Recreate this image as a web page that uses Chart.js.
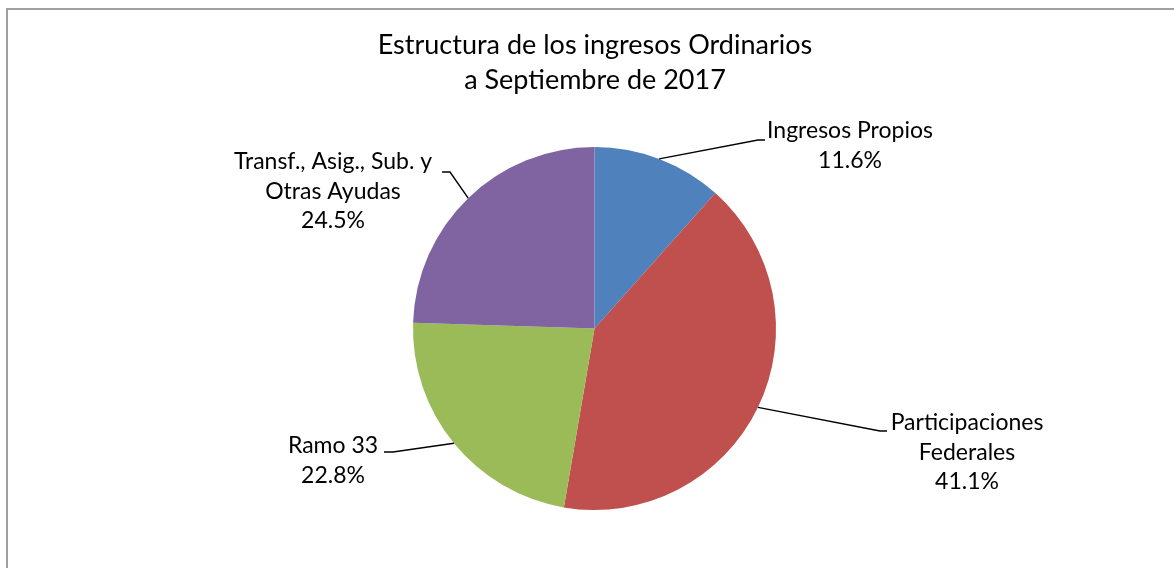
<!DOCTYPE html>
<html>
<head>
<meta charset="utf-8">
<script src="https://cdn.jsdelivr.net/npm/chart.js@4.4.0/dist/chart.umd.min.js"></script>
<style>
  html, body { margin: 0; padding: 0; background: #fff; overflow: hidden; }
  #caja { width: 1174px; height: 568px; position: relative; }
</style>
</head>
<body>
<div id="caja"><canvas id="grafica"></canvas></div>
<script>
// ===================== DATOS =====================
const categorias = [
  ['Ingresos Propios'],
  ['Participaciones', 'Federales'],
  ['Ramo 33'],
  ['Transf., Asig., Sub. y', 'Otras Ayudas']
];
const valores = [11.6, 41.1, 22.8, 24.5];
const colores = ['#4F81BD', '#C0504D', '#9BBB59', '#8064A2'];
const tituloLineas = ['Estructura de los ingresos Ordinarios', 'a Septiembre de 2017'];

// posicion de cada etiqueta: codo de la guia, fin de la guia, centro del texto, y de la primera linea
const etiquetasPos = [
  { codo: [758, 140], fin: [765, 140], cx: 850, y: 131 },
  { codo: [880, 431], fin: [887, 431], cx: 967, y: 423 },
  { codo: [393, 452], fin: [384, 452], cx: 333, y: 446 },
  { codo: [450, 172], fin: [442, 172], cx: 333, y: 162 }
];

const FUENTE = 'Lato, "Open Sans", sans-serif';

// ===================== PLUGINS =====================
const marcoPlugin = {
  id: 'marco',
  beforeDraw(chart){
    const ctx = chart.ctx;
    ctx.save();
    ctx.fillStyle = '#fff';
    ctx.fillRect(0, 0, chart.width, chart.height);
    ctx.fillStyle = '#a0a0a0';
    ctx.fillRect(6, 8, 2, chart.height);
    ctx.fillRect(6, 8, chart.width, 2);
    ctx.restore();
  }
};

const etiquetasPlugin = {
  id: 'etiquetas',
  afterDraw(chart){
    const ctx = chart.ctx;
    const meta = chart.getDatasetMeta(0);
    ctx.save();

    // titulo
    ctx.fillStyle = '#000';
    ctx.font = '27px ' + FUENTE;
    ctx.textAlign = 'center';
    ctx.textBaseline = 'middle';
    tituloLineas.forEach((t, i) => ctx.fillText(t, 595, 45 + i * 35));

    // etiquetas con lineas guia
    ctx.font = '23px ' + FUENTE;
    meta.data.forEach((arc, i) => {
      const p = etiquetasPos[i];
      const ang = (arc.startAngle + arc.endAngle) / 2;
      const x0 = arc.x + Math.cos(ang) * arc.outerRadius;
      const y0 = arc.y + Math.sin(ang) * arc.outerRadius;
      ctx.strokeStyle = '#000';
      ctx.lineWidth = 1.4;
      ctx.beginPath();
      ctx.moveTo(x0, y0);
      ctx.lineTo(p.codo[0], p.codo[1]);
      ctx.lineTo(p.fin[0], p.fin[1]);
      ctx.stroke();

      const lineas = [...categorias[i], valores[i].toFixed(1) + '%'];
      lineas.forEach((l, j) => ctx.fillText(l, p.cx, p.y + j * 29.5));
    });
    ctx.restore();
  }
};

// ===================== GRAFICA =====================
new Chart(document.getElementById('grafica'), {
  type: 'pie',
  data: {
    labels: categorias,
    datasets: [{
      data: valores,
      backgroundColor: colores,
      borderWidth: 0
    }]
  },
  options: {
    responsive: true,
    maintainAspectRatio: false,
    animation: false,
    layout: { padding: { left: 413, right: 398, top: 147, bottom: 58 } },
    plugins: {
      legend: { display: false },
      tooltip: { enabled: false },
      title: { display: false }
    }
  },
  plugins: [marcoPlugin, etiquetasPlugin]
});
</script>
</body>
</html>
